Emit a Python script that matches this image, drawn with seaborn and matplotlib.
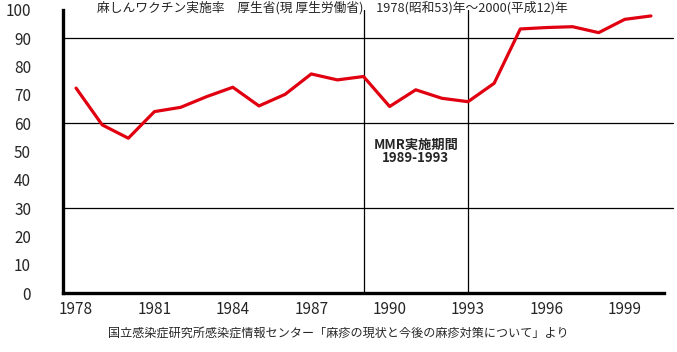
import matplotlib
matplotlib.use("Agg")
from matplotlib import pyplot as plt
import seaborn as sns
import pandas as pd

# measles vaccination rate (%) by year
years = list(range(1978, 2001))
rates = [72.4, 59.4, 54.7, 64.1, 65.6, 69.4, 72.7, 66.1, 70.2, 77.4, 75.3, 76.5,
         65.9, 71.8, 68.8, 67.6, 74.1, 93.3, 93.8, 94.1, 92.0, 96.7, 97.9]
year_ticks = [1978, 1981, 1984, 1987, 1990, 1993, 1996, 1999]
y_ticks = list(range(0, 101, 10))
grid_values = [30, 60, 90]
mmr_years = [1989, 1993]

title = "麻しんワクチン実施率　厚生省(現 厚生労働省)　1978(昭和53)年～2000(平成12)年"
mmr_label = "MMR実施期間\n1989-1993"
source = "国立感染症研究所感染症情報センター「麻疹の現状と今後の麻疹対策について」より"

sns.set_style("white")
plt.rcParams['font.family'] = ['Noto Sans CJK JP', 'DejaVu Sans']

df = pd.DataFrame({"year": years, "rate": rates})

fig = plt.figure(figsize=(6.77, 3.52), dpi=100)
ax = fig.add_axes([63 / 677, 59 / 352, (664 - 63) / 677, (293 - 10) / 352])

for g in grid_values:
    ax.axhline(g, color="black", lw=0.9, zorder=1, xmax=1.015, clip_on=False)
for yr in mmr_years:
    ax.axvline(yr, color="black", lw=0.9, zorder=1)

sns.lineplot(data=df, x="year", y="rate", ax=ax, color="#e00010", lw=2.3, zorder=3)

ax.set_xlim(1977.5, 2000.5)
ax.set_ylim(0, 100)
ax.set_xticks(year_ticks)
ax.set_xticks([y + 0.5 for y in years[:-1]], minor=True)
ax.set_yticks(y_ticks)
ax.tick_params(axis="x", which="major", length=0, pad=6, labelsize=11)
ax.tick_params(axis="x", which="minor", direction="in", length=4, width=1.8)
ax.tick_params(axis="y", direction="in", length=6, width=1.8, pad=23, labelsize=11)
ax.set_xlabel("")
ax.set_ylabel("")

for side in ["top", "right"]:
    ax.spines[side].set_visible(False)
for side in ["left", "bottom"]:
    ax.spines[side].set_linewidth(2.4)
    ax.spines[side].set_color("black")

ax.text(1991, 50, mmr_label, ha="center", va="center", fontsize=9.5,
        fontweight="bold", linespacing=1.0)
fig.text(97 / 677, 1 - 8 / 352, title, ha="left", va="center", fontsize=9.2)
fig.text(108 / 677, 1 - 333 / 352, source, ha="left", va="center", fontsize=8.7)

fig.savefig("out.png", dpi=100)
